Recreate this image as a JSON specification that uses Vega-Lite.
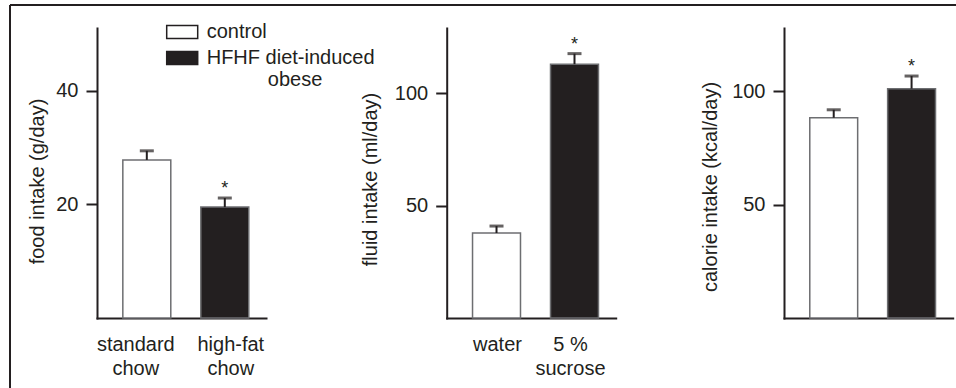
{
  "$schema": "https://vega.github.io/schema/vega-lite/v6.json",
  "width": 946,
  "height": 383,
  "autosize": "none",
  "padding": {"left": 10, "top": 5, "right": 0, "bottom": 0},
  "background": "#ffffff",
  "config": {
    "font": "Liberation Sans",
    "view": {"stroke": "#231f20", "strokeWidth": 2, "strokeDash": [946, 1329, 383, 0]},
    "axis": {
      "domainColor": "#231f20", "domainWidth": 2, "domainCap": "square",
      "tickColor": "#231f20", "tickWidth": 2,
      "labelColor": "#231f20", "titleColor": "#231f20",
      "labelFontSize": 20, "titleFontSize": 20, "titleFontWeight": "normal",
      "labelFont": "Liberation Sans", "titleFont": "Liberation Sans", "grid": false
    }
  },
  "data": {"values": [
    {"panel": "food", "cat": "standard chow", "group": "control", "value": 27.8, "hi": 29.4, "star": ""},
    {"panel": "food", "cat": "high-fat chow", "group": "HFHF diet-induced obese", "value": 19.5, "hi": 21.1, "star": "*"},
    {"panel": "fluid", "cat": "water", "group": "control", "value": 37.8, "hi": 40.9, "star": ""},
    {"panel": "fluid", "cat": "5 % sucrose", "group": "HFHF diet-induced obese", "value": 112.9, "hi": 117.6, "star": "*"},
    {"panel": "calorie", "cat": "control", "group": "control", "value": 88.4, "hi": 91.9, "star": ""},
    {"panel": "calorie", "cat": "HFHF diet-induced obese", "group": "HFHF diet-induced obese", "value": 101.2, "hi": 106.8, "star": "*"}
  ]},
  "layer": [
    {
      "transform": [{"filter": "datum.panel == 'food'"}],
      "encoding": {
        "x": {"field": "cat", "type": "nominal", "sort": null, "title": null,
          "scale": {"range": [87, 256], "paddingInner": 0.385, "paddingOuter": 0.276, "align": 0.6},
          "axis": {"orient": "bottom", "offset": -70, "ticks": false, "labelAngle": 0, "labelPadding": 16, "labelLineHeight": 24,
            "labelExpr": "split(datum.label, ' ')",
            "labelOffset": {"condition": {"test": "datum.value == 'standard chow'", "value": -11}, "value": 6}}}
      },
      "layer": [
        {"mark": {"type": "bar", "stroke": "#6d6e71", "strokeWidth": 1.5},
         "encoding": {
           "y": {"field": "value", "type": "quantitative", "title": "food intake (g/day)", "scale": {"domain": [0, 51], "range": [313, 23], "nice": false},
             "axis": {"orient": "left", "offset": -87, "values": [20, 40], "tickSize": 11, "labelPadding": 8, "titlePadding": 8, "titleY": 176}},
           "fill": {"field": "group", "type": "nominal", "scale": {"domain": ["control", "HFHF diet-induced obese"], "range": ["#ffffff", "#231f20"]},
             "legend": {"orient": "none", "legendX": 155.7, "legendY": 16.5, "title": null, "symbolType": "M-1,-0.81H1V0.03H-1Z", "symbolSize": 961,
               "symbolStrokeColor": "#231f20", "symbolStrokeWidth": 1.5, "labelFontSize": 20, "labelFont": "Liberation Sans", "labelColor": "#231f20",
               "labelBaseline": "alphabetic", "labelOffset": 8, "rowPadding": 5, "labelLimit": 0,
               "labelExpr": "datum.label == 'control' ? 'control' : ['HFHF diet-induced', '\u200b\u00a0\u00a0\u00a0\u00a0\u00a0\u00a0\u00a0\u00a0\u00a0\u00a0\u00a0obese']"}}
         }},
        {"mark": {"type": "rule", "color": "#231f20", "strokeWidth": 2},
         "encoding": {
           "y": {"field": "value", "type": "quantitative", "title": "food intake (g/day)", "scale": {"domain": [0, 51], "range": [313, 23], "nice": false},
             "axis": {"orient": "left", "offset": -87, "values": [20, 40], "tickSize": 11, "labelPadding": 8, "titlePadding": 8, "titleY": 176}},
           "y2": {"field": "hi"}}},
        {"mark": {"type": "tick", "orient": "horizontal", "size": 14, "thickness": 3, "color": "#231f20"},
         "encoding": {
           "y": {"field": "hi", "type": "quantitative", "title": "food intake (g/day)", "scale": {"domain": [0, 51], "range": [313, 23], "nice": false},
             "axis": {"orient": "left", "offset": -87, "values": [20, 40], "tickSize": 11, "labelPadding": 8, "titlePadding": 8, "titleY": 176}}}},
        {"mark": {"type": "text", "fontSize": 18, "dy": -4, "baseline": "alphabetic", "color": "#231f20"},
         "encoding": {
           "y": {"field": "hi", "type": "quantitative", "title": "food intake (g/day)", "scale": {"domain": [0, 51], "range": [313, 23], "nice": false},
             "axis": {"orient": "left", "offset": -87, "values": [20, 40], "tickSize": 11, "labelPadding": 8, "titlePadding": 8, "titleY": 176}},
           "text": {"field": "star"}}}
      ]
    },
    {
      "transform": [{"filter": "datum.panel == 'fluid'"}],
      "encoding": {
        "x": {"field": "cat", "type": "nominal", "sort": null, "title": null,
          "scale": {"range": [436.7, 605.7], "paddingInner": 0.385, "paddingOuter": 0.276, "align": 0.6},
          "axis": {"orient": "bottom", "offset": -70, "ticks": false, "labelAngle": 0, "labelPadding": 16, "labelLineHeight": 24,
            "labelExpr": "datum.label == '5 % sucrose' ? ['5 %', 'sucrose'] : datum.label",
            "labelOffset": {"condition": {"test": "datum.value == 'water'", "value": 1}, "value": -4}}}
      },
      "layer": [
        {"mark": {"type": "bar", "stroke": "#6d6e71", "strokeWidth": 1.5},
         "encoding": {
           "y": {"field": "value", "type": "quantitative", "title": "fluid intake (ml/day)", "scale": {"domain": [0, 129], "range": [313, 23], "nice": false},
             "axis": {"orient": "left", "offset": -436.7, "values": [50, 100], "tickSize": 11, "labelPadding": 8, "titlePadding": 14, "titleY": 174}},
           "fill": {"field": "group", "type": "nominal", "scale": {"domain": ["control", "HFHF diet-induced obese"], "range": ["#ffffff", "#231f20"]},
             "legend": {"orient": "none", "legendX": 155.7, "legendY": 16.5, "title": null, "symbolType": "M-1,-0.81H1V0.03H-1Z", "symbolSize": 961,
               "symbolStrokeColor": "#231f20", "symbolStrokeWidth": 1.5, "labelFontSize": 20, "labelFont": "Liberation Sans", "labelColor": "#231f20",
               "labelBaseline": "alphabetic", "labelOffset": 8, "rowPadding": 5, "labelLimit": 0,
               "labelExpr": "datum.label == 'control' ? 'control' : ['HFHF diet-induced', '\u200b\u00a0\u00a0\u00a0\u00a0\u00a0\u00a0\u00a0\u00a0\u00a0\u00a0\u00a0obese']"}}
         }},
        {"mark": {"type": "rule", "color": "#231f20", "strokeWidth": 2},
         "encoding": {
           "y": {"field": "value", "type": "quantitative", "title": "fluid intake (ml/day)", "scale": {"domain": [0, 129], "range": [313, 23], "nice": false},
             "axis": {"orient": "left", "offset": -436.7, "values": [50, 100], "tickSize": 11, "labelPadding": 8, "titlePadding": 14, "titleY": 174}},
           "y2": {"field": "hi"}}},
        {"mark": {"type": "tick", "orient": "horizontal", "size": 14, "thickness": 3, "color": "#231f20"},
         "encoding": {
           "y": {"field": "hi", "type": "quantitative", "title": "fluid intake (ml/day)", "scale": {"domain": [0, 129], "range": [313, 23], "nice": false},
             "axis": {"orient": "left", "offset": -436.7, "values": [50, 100], "tickSize": 11, "labelPadding": 8, "titlePadding": 14, "titleY": 174}}}},
        {"mark": {"type": "text", "fontSize": 18, "dy": -4, "baseline": "alphabetic", "color": "#231f20"},
         "encoding": {
           "y": {"field": "hi", "type": "quantitative", "title": "fluid intake (ml/day)", "scale": {"domain": [0, 129], "range": [313, 23], "nice": false},
             "axis": {"orient": "left", "offset": -436.7, "values": [50, 100], "tickSize": 11, "labelPadding": 8, "titlePadding": 14, "titleY": 174}},
           "text": {"field": "star"}}}
      ]
    },
    {
      "transform": [{"filter": "datum.panel == 'calorie'"}],
      "encoding": {
        "x": {"field": "cat", "type": "nominal", "sort": null, "title": null,
          "scale": {"range": [774, 942.7], "paddingInner": 0.385, "paddingOuter": 0.276, "align": 0.6},
          "axis": {"orient": "bottom", "offset": -70, "ticks": false, "labels": false}}
      },
      "layer": [
        {"mark": {"type": "bar", "stroke": "#6d6e71", "strokeWidth": 1.5},
         "encoding": {
           "y": {"field": "value", "type": "quantitative", "title": "calorie intake (kcal/day)", "scale": {"domain": [0, 128], "range": [313, 23], "nice": false},
             "axis": {"orient": "left", "offset": -774, "values": [50, 100], "tickSize": 11, "labelPadding": 8, "titlePadding": 11, "titleY": 181.5}},
           "fill": {"field": "group", "type": "nominal", "scale": {"domain": ["control", "HFHF diet-induced obese"], "range": ["#ffffff", "#231f20"]},
             "legend": {"orient": "none", "legendX": 155.7, "legendY": 16.5, "title": null, "symbolType": "M-1,-0.81H1V0.03H-1Z", "symbolSize": 961,
               "symbolStrokeColor": "#231f20", "symbolStrokeWidth": 1.5, "labelFontSize": 20, "labelFont": "Liberation Sans", "labelColor": "#231f20",
               "labelBaseline": "alphabetic", "labelOffset": 8, "rowPadding": 5, "labelLimit": 0,
               "labelExpr": "datum.label == 'control' ? 'control' : ['HFHF diet-induced', '\u200b\u00a0\u00a0\u00a0\u00a0\u00a0\u00a0\u00a0\u00a0\u00a0\u00a0\u00a0obese']"}}
         }},
        {"mark": {"type": "rule", "color": "#231f20", "strokeWidth": 2},
         "encoding": {
           "y": {"field": "value", "type": "quantitative", "title": "calorie intake (kcal/day)", "scale": {"domain": [0, 128], "range": [313, 23], "nice": false},
             "axis": {"orient": "left", "offset": -774, "values": [50, 100], "tickSize": 11, "labelPadding": 8, "titlePadding": 11, "titleY": 181.5}},
           "y2": {"field": "hi"}}},
        {"mark": {"type": "tick", "orient": "horizontal", "size": 14, "thickness": 3, "color": "#231f20"},
         "encoding": {
           "y": {"field": "hi", "type": "quantitative", "title": "calorie intake (kcal/day)", "scale": {"domain": [0, 128], "range": [313, 23], "nice": false},
             "axis": {"orient": "left", "offset": -774, "values": [50, 100], "tickSize": 11, "labelPadding": 8, "titlePadding": 11, "titleY": 181.5}}}},
        {"mark": {"type": "text", "fontSize": 18, "dy": -4, "baseline": "alphabetic", "color": "#231f20"},
         "encoding": {
           "y": {"field": "hi", "type": "quantitative", "title": "calorie intake (kcal/day)", "scale": {"domain": [0, 128], "range": [313, 23], "nice": false},
             "axis": {"orient": "left", "offset": -774, "values": [50, 100], "tickSize": 11, "labelPadding": 8, "titlePadding": 11, "titleY": 181.5}},
           "text": {"field": "star"}}}
      ]
    }
  ],
  "resolve": {"scale": {"x": "independent", "y": "independent"}, "axis": {"x": "independent", "y": "independent"}}
}
